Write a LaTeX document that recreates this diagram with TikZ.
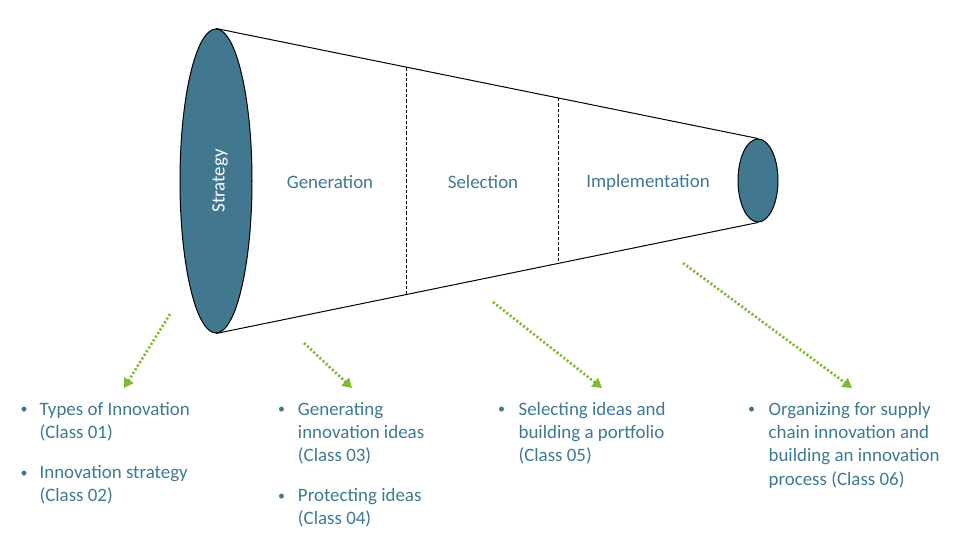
\documentclass[tikz,border=0pt]{standalone}
\usepackage{fontspec}
\setmainfont{Carlito}
\usetikzlibrary{shapes.geometric,arrows.meta,calc}
\definecolor{tealfill}{RGB}{65,120,143}
\definecolor{tealtext}{RGB}{62,121,146}
\definecolor{arrgreen}{RGB}{127,186,50}
\newcommand{\lines}[1]{\begin{tabular}[t]{@{}l@{}}#1\end{tabular}}
\newcommand{\smallbul}{\raisebox{1pt}{\fontsize{10.5}{12}\selectfont •}}
\begin{document}
\begin{tikzpicture}[x=0.75pt,y=-0.75pt,
  fnt/.style={font=\fontsize{14.2}{17.6}\selectfont},
  stage/.style={fnt, text=tealtext, inner sep=0pt},
  itemtext/.style={fnt, anchor=base west, text=tealtext, inner sep=0pt},
  bul/.style={fnt, anchor=base, text=tealtext, inner sep=0pt},
  disc/.style={ellipse, draw=black, line width=0.75pt, fill=tealfill, inner sep=0pt},
  cone/.style={draw=black, line width=0.75pt},
  divider/.style={draw=black, line width=0.75pt, dash pattern=on 2.5pt off 1.5pt},
  garrow/.style={draw=arrgreen, line width=2pt, dash pattern=on 1.6pt off 1.6pt,
    -{Triangle[width=8pt,length=7pt,fill=arrgreen]}},
]
\useasboundingbox (0,0) rectangle (958,542);

% cone
\node[disc, minimum width=54pt, minimum height=228pt] (big) at (216,181) {};
\node[disc, minimum width=30pt, minimum height=62.25pt] (small) at (758,180.5) {};
\draw[cone] (big.north) -- (small.north);
\draw[cone] (big.south) -- (small.south);
\draw[divider] ($(big.north)!0.352!(small.north)$) -- ($(big.south)!0.352!(small.south)$);
\draw[divider] ($(big.north)!0.631!(small.north)$) -- ($(big.south)!0.631!(small.south)$);

\node[stage, rotate=90, text=white] (strategy) at (220,181) {Strategy};
\node[stage] (generation) at (330,182) {Generation};
\node[stage] (selection) at (483,182) {Selection};
\node[stage] (implementation) at (648,182) {Implementation};

% arrows
\coordinate (a1s) at (170,314); \coordinate (a1e) at (124,388);
\coordinate (a2s) at (304,343); \coordinate (a2e) at (352,388);
\coordinate (a3s) at (493,302); \coordinate (a3e) at (602,388);
\coordinate (a4s) at (683,263); \coordinate (a4e) at (852,388);
\draw[garrow] (a1s) -- (a1e);
\draw[garrow] (a2s) -- (a2e);
\draw[garrow] (a3s) -- (a3e);
\draw[garrow] (a4s) -- (a4e);

% bullet lists
\node[bul] (b1a) at (24,415) {\smallbul};
\node[itemtext] (t1a) at (39.3,415) {\lines{Types of Innovation\\(Class 01)}};
\node[bul] (b1b) at (24,478.5) {\smallbul};
\node[itemtext] (t1b) at (39.3,478.5) {\lines{Innovation strategy\\(Class 02)}};

\node[bul] (b2a) at (281.7,415) {\smallbul};
\node[itemtext] (t2a) at (297.7,415) {\lines{Generating\\innovation ideas\\(Class 03)}};
\node[bul] (b2b) at (281.7,501.5) {\smallbul};
\node[itemtext] (t2b) at (297.7,501.5) {\lines{Protecting ideas\\(Class 04)}};

\node[bul] (b3a) at (501.7,415) {\smallbul};
\node[itemtext] (t3a) at (518.3,415) {\lines{Selecting ideas and\\building a portfolio\\(Class 05)}};

\node[bul] (b4a) at (751.7,415) {\smallbul};
\node[itemtext] (t4a) at (768.3,415) {\lines{Organizing for supply\\chain innovation and\\building an innovation\\process (Class 06)}};
\end{tikzpicture}
\end{document}
